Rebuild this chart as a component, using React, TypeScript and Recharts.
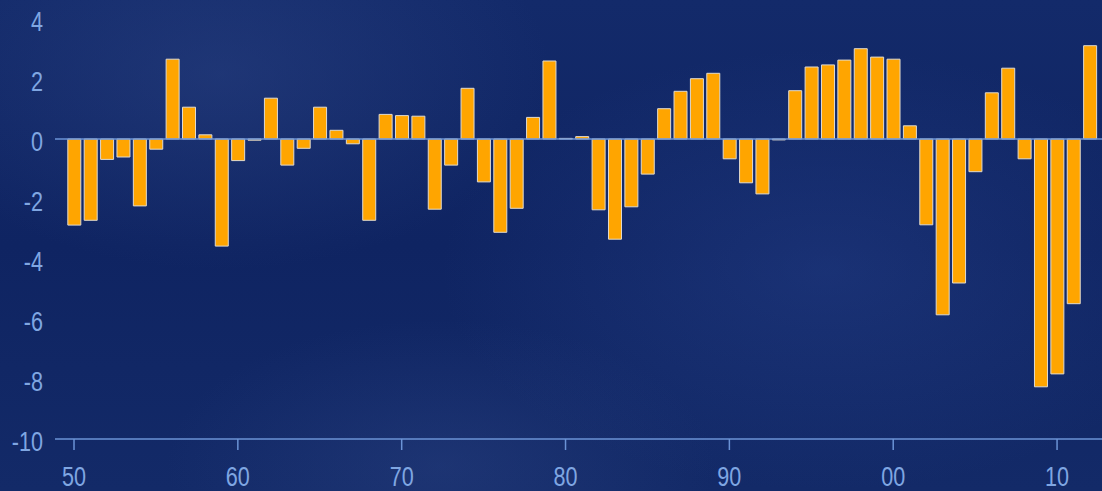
import React from 'react';
import {
  BarChart,
  Bar,
  XAxis,
  YAxis,
  ReferenceLine,
} from 'recharts';

const YEARS = [
  1950, 1951, 1952, 1953, 1954, 1955, 1956, 1957, 1958, 1959,
  1960, 1961, 1962, 1963, 1964, 1965, 1966, 1967, 1968, 1969,
  1970, 1971, 1972, 1973, 1974, 1975, 1976, 1977, 1978, 1979,
  1980, 1981, 1982, 1983, 1984, 1985, 1986, 1987, 1988, 1989,
  1990, 1991, 1992, 1993, 1994, 1995, 1996, 1997, 1998, 1999,
  2000, 2001, 2002, 2003, 2004, 2005, 2006, 2007, 2008, 2009,
  2010, 2011, 2012,
];

const VALUES = [
  -2.87, -2.71, -0.68, -0.6, -2.23, -0.34, 2.66, 1.06, 0.14, -3.57,
  -0.72, -0.04, 1.36, -0.87, -0.31, 1.06, 0.29, -0.16, -2.71, 0.82,
  0.78, 0.76, -2.34, -0.87, 1.69, -1.43, -3.11, -2.31, 0.72, 2.6,
  0.02, 0.08, -2.36, -3.34, -2.26, -1.17, 1.01, 1.59, 2.01, 2.19,
  -0.66, -1.46, -1.83, -0.03, 1.61, 2.4, 2.47, 2.63, 3.01, 2.73,
  2.66, 0.44, -2.86, -5.86, -4.8, -1.09, 1.54, 2.36, -0.66, -8.26,
  -7.83, -5.49, 3.11,
];

const X_TICKS = [1950, 1960, 1970, 1980, 1990, 2000, 2010];
const Y_TICKS = [-10, -8, -6, -4, -2, 0, 2, 4];

const data = YEARS.map((year, i) => ({ year, value: VALUES[i] }));

const AXIS_BLUE = '#6b93d6';
const LABEL_BLUE = '#7fa6e2';
const FONT = '"Liberation Sans", Arial, sans-serif';

// two digit year labels: 1950 -> "50", 2000 -> "00"
const shortYear = (v: number) => String(v % 100).padStart(2, '0');

// narrow the labels a bit, the original uses a condensed face
const XTick = ({ x, y, payload }: any) => (
  <g transform={`translate(${x},${y})`}>
    <text
      transform="scale(0.8,1)"
      textAnchor="middle"
      dy="0.71em"
      fill={LABEL_BLUE}
      fontSize={27}
      fontFamily={FONT}
    >
      {shortYear(payload.value)}
    </text>
  </g>
);

const YTick = ({ x, y, payload }: any) => (
  <g transform={`translate(${x},${y + 2.5})`}>
    <text
      transform="scale(0.8,1)"
      textAnchor="end"
      dy="0.355em"
      fill={LABEL_BLUE}
      fontSize={27}
      fontFamily={FONT}
    >
      {payload.value}
    </text>
  </g>
);

export default function App() {
  return (
    <>
      <style>{'body { margin: 0; }'}</style>
      <div
        style={{
          width: 1102,
          height: 491,
          overflow: 'hidden',
          position: 'relative',
          background:
            'radial-gradient(ellipse 30% 40% at 20% 15%, rgba(60,85,150,0.3), rgba(0,0,0,0)),' +
            'radial-gradient(ellipse 35% 45% at 75% 55%, rgba(50,80,160,0.3), rgba(0,0,0,0)),' +
            'radial-gradient(ellipse 25% 30% at 40% 95%, rgba(60,85,150,0.25), rgba(0,0,0,0)),' +
            'linear-gradient(180deg, #132a6a 0%, #0f2462 50%, #132a68 100%)',
        }}
      >
        <BarChart
          width={1130}
          height={491}
          data={data}
          margin={{ top: 19, right: 15.6, left: 0, bottom: 0 }}
        >
          <XAxis
            dataKey="year"
            type="number"
            domain={[1948.84, 2013.5]}
            allowDataOverflow
            ticks={X_TICKS}
            height={52}
            axisLine={{ stroke: AXIS_BLUE, strokeWidth: 1.5 }}
            tickLine={{ stroke: AXIS_BLUE, strokeWidth: 1.5 }}
            tickSize={11}
            tickMargin={17}
            tick={<XTick />}
          />
          <YAxis
            type="number"
            domain={[-10, 4]}
            ticks={Y_TICKS}
            width={55}
            axisLine={false}
            tickLine={false}
            tickSize={0}
            tickMargin={12}
            tick={<YTick />}
          />
          <ReferenceLine y={0} stroke={AXIS_BLUE} strokeWidth={1.5} />
          <Bar
            dataKey="value"
            fill="#ffa500"
            stroke="#e0dace"
            strokeWidth={1}
            barSize={13}
            isAnimationActive={false}
          />
        </BarChart>
      </div>
    </>
  );
}
